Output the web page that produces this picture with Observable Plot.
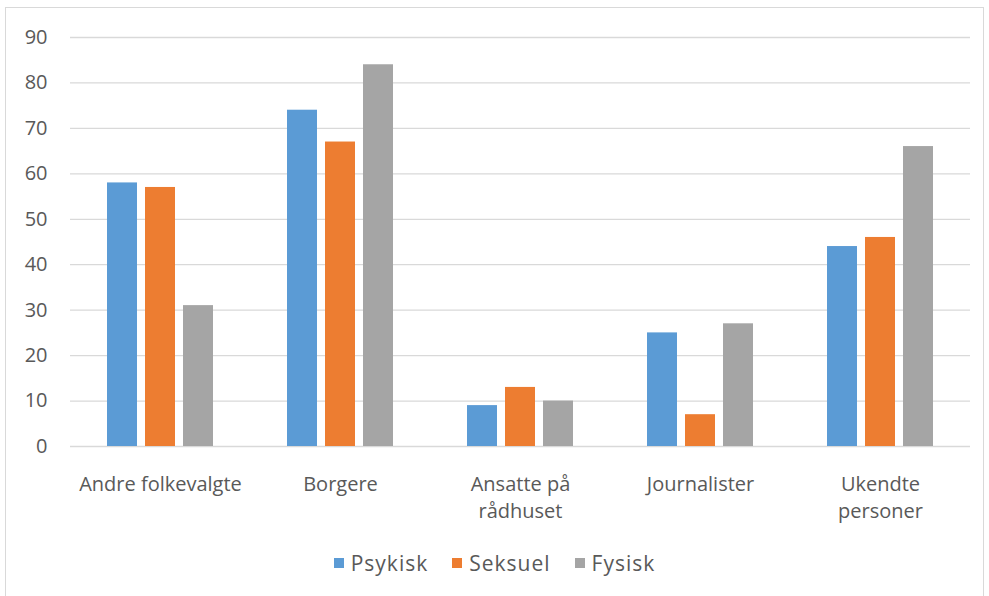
<!DOCTYPE html>
<html>
<head>
<meta charset="utf-8">
<script src="https://cdn.jsdelivr.net/npm/d3@7"></script>
<script src="https://cdn.jsdelivr.net/npm/@observablehq/plot@0.6"></script>
<style>
  html, body { margin: 0; padding: 0; background: #fff; }
  #wrap { position: relative; width: 989px; height: 596px; overflow: hidden; font-family: "Open Sans", "Noto Sans", sans-serif; color: #595959; }
  #border { position: absolute; left: 5px; top: 7px; width: 979px; height: 600px; border: 1px solid #d9d9d9; box-sizing: border-box; }
  #chart { position: absolute; left: 0; top: 0; }
  #legend { position: absolute; left: 0; width: 989px; top: 548px; display: flex; justify-content: center; gap: 24px; font-size: 21px; line-height: 30px; letter-spacing: 1px; }
  .item { display: flex; align-items: center; gap: 7px; }
  .sw { width: 10px; height: 10px; display: inline-block; }
</style>
</head>
<body>
<div id="wrap">
  <div id="border"></div>
  <div id="chart"></div>
  <div id="legend"></div>
</div>
<script>
const categories = ["Andre folkevalgte", "Borgere", "Ansatte på\nrådhuset", "Journalister", "Ukendte\npersoner"];
const seriesNames = ["Psykisk", "Seksuel", "Fysisk"];
const colors = ["#5B9BD5", "#ED7D31", "#A5A5A5"];
const psykisk = [58, 74, 9, 25, 44];
const seksuel = [57, 67, 13, 7, 46];
const fysisk = [31, 84, 10, 27, 66];
const yTicks = [0, 10, 20, 30, 40, 50, 60, 70, 80, 90];

const seriesValues = [psykisk, seksuel, fysisk];
const data = [];
categories.forEach((c, i) => {
  seriesNames.forEach((s, j) => data.push({category: c, series: s, value: seriesValues[j][i]}));
});

const plot = Plot.plot({
  width: 989,
  height: 540,
  marginLeft: 70,
  marginRight: 19,
  marginTop: 37,
  marginBottom: 94,
  style: {fontFamily: "'Open Sans', 'Noto Sans', sans-serif", fontSize: "20px", color: "#595959", background: "transparent", overflow: "visible"},
  fx: {domain: categories, padding: 0, label: null},
  x: {domain: seriesNames, paddingInner: 0.2, paddingOuter: 0.914, axis: null},
  y: {domain: [0, 90], ticks: yTicks, label: null},
  color: {domain: seriesNames, range: colors},
  marks: [
    Plot.gridY(yTicks, {stroke: "#d9d9d9", strokeOpacity: 1, strokeWidth: 1.3}),
    Plot.barY(data, {fx: "category", x: "series", y: "value", fill: "series"}),
    Plot.axisY(yTicks, {tickSize: 0, tickPadding: 23, fontSize: 20, fill: "#595959"}),
    Plot.axisFx({anchor: "bottom", tickSize: 0, tickPadding: 25, fontSize: 20, fill: "#595959", label: null, lineHeight: 1.35})
  ]
});
document.getElementById("chart").appendChild(plot);

const legend = document.getElementById("legend");
seriesNames.forEach((s, i) => {
  const item = document.createElement("div");
  item.className = "item";
  const sw = document.createElement("span");
  sw.className = "sw";
  sw.style.background = colors[i];
  const t = document.createElement("span");
  t.textContent = s;
  item.appendChild(sw);
  item.appendChild(t);
  legend.appendChild(item);
});
</script>
</body>
</html>
